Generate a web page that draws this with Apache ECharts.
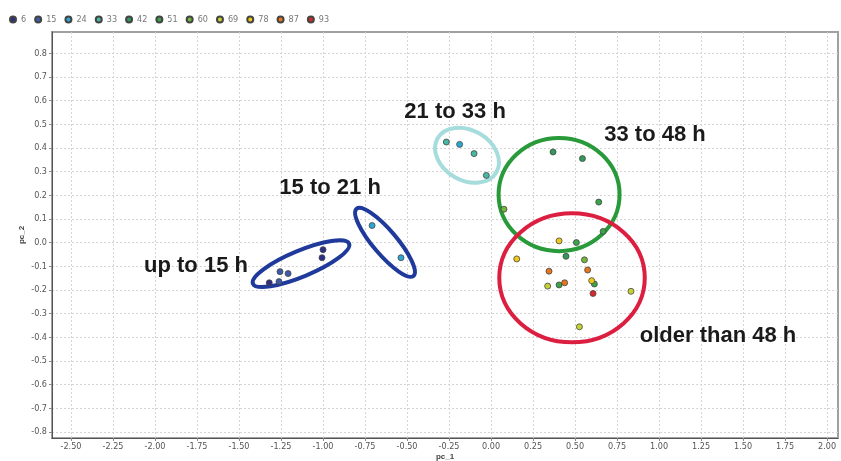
<!DOCTYPE html>
<html><head><meta charset="utf-8">
<script src="https://cdn.jsdelivr.net/npm/echarts@6/dist/echarts.min.js"></script>
<style>html,body{margin:0;padding:0;background:#fff}#c{width:841px;height:461px}</style>
</head><body><div id="c"></div>
<script>
// ---- data ----
const groups = ['6','15','24','33','42','51','60','69','78','87','93'];
const s6  = [[-1.32,-0.17],[-1.00,-0.03],[-1.006,-0.064]];
const s15 = [[-1.256,-0.123],[-1.208,-0.131],[-1.262,-0.165]];
const s24 = [[-0.708,0.072],[-0.536,-0.064],[-0.187,0.415]];
const s33 = [[-0.266,0.425],[-0.101,0.376],[-0.028,0.284]];
const s42 = [[0.369,0.383],[0.544,0.355],[0.446,-0.058]];
const s51 = [[0.641,0.171],[0.508,0.0],[0.667,0.047],[0.405,-0.179],[0.615,-0.175]];
const s60 = [[0.077,0.141],[0.556,-0.073]];
const s69 = [[0.337,-0.184],[0.833,-0.206],[0.526,-0.356]];
const s78 = [[0.405,0.007],[0.153,-0.069],[0.599,-0.161]];
const s87 = [[0.345,-0.121],[0.575,-0.116],[0.438,-0.170]];
const s93 = [[0.607,-0.215]];
const seriesData = [s6,s15,s24,s33,s42,s51,s60,s69,s78,s87,s93];
const xTicks = [-2.5,-2.25,-2.0,-1.75,-1.5,-1.25,-1.0,-0.75,-0.5,-0.25,0,0.25,0.5,0.75,1.0,1.25,1.5,1.75,2.0];
const yTicks = [-0.8,-0.7,-0.6,-0.5,-0.4,-0.3,-0.2,-0.1,0,0.1,0.2,0.3,0.4,0.5,0.6,0.7,0.8];
// annotation ellipses: [cx, cy, semi-major, semi-minor (x-axis units), tilt deg]
const ellipseLabels = ['up to 15 h','15 to 21 h','21 to 33 h','33 to 48 h','older than 48 h'];
const ellipseShapes = [
  [-1.131,-0.089,0.310,0.077,22.6],
  [-0.631,0.001,0.262,0.071,-49.7],
  [-0.143,0.369,0.202,0.149,-30],
  [0.405,0.203,0.360,0.337,0],
  [0.482,-0.149,0.433,0.384,0]
];
const labelAnchors = [[-1.756,-0.097],[-0.958,0.229],[-0.214,0.551],[0.976,0.453],[1.351,-0.394]];

// ---- styles ----
const groupColors = ['#2e2e84','#3d5ba8','#2aa8d2','#48b8a2','#2f9a5a','#3ba34a','#72b63e','#c7d232','#f0c818','#e8761e','#d82828'];
const ellipseColors = ['#1f3a9a','#1f3a9a','#a6dcdc','#289a3a','#dc1e40'];

const chart = echarts.init(document.getElementById('c'), null, {renderer:'canvas'});
const scatterSeries = groups.map((g,i)=>({
  name:g, type:'scatter', data:seriesData[i], symbolSize:6, z:5,
  itemStyle:{color:groupColors[i], borderColor:'#444', borderWidth:0.8, opacity:1}
}));
const ellipseSeries = {
  type:'custom', silent:true, z:3,
  data: ellipseShapes.map((e,i)=>({value:e})),
  renderItem:(params, api)=>{
    const c = api.coord([api.value(0), api.value(1)]);
    const rx = api.size([api.value(2),0])[0];
    const ry = api.size([api.value(3),0])[0];
    return {type:'ellipse', x:c[0], y:c[1], rotation: api.value(4)*Math.PI/180,
      shape:{cx:0, cy:0, rx:rx, ry:ry},
      style:{fill:null, stroke:ellipseColors[params.dataIndex], lineWidth:4}};
  }
};
const labelSeries = {
  type:'custom', silent:true, z:6,
  data: labelAnchors.map(a=>a),
  renderItem:(params, api)=>{
    const c = api.coord([api.value(0), api.value(1)]);
    return {type:'text', x:c[0], y:c[1],
      style:{text:ellipseLabels[params.dataIndex], font:'bold 22px "Liberation Sans", Arial, sans-serif',
        fill:'#1a1a1a', align:'center', verticalAlign:'middle'}};
  }
};

chart.setOption({
  animation:false,
  backgroundColor:'#fff',
  legend:{data:groups, left:4, top:10, icon:'circle', itemWidth:6, itemHeight:6, itemGap:8,
    textStyle:{fontSize:9, color:'#777', fontFamily:'"DejaVu Sans Condensed", "DejaVu Sans", sans-serif'}},
  grid:{left:52, right:3, top:32, bottom:23, outerBoundsMode:'none', containLabel:false,
    show:true, borderColor:'#a0a0a0', borderWidth:2, backgroundColor:'#fff'},
  xAxis:{type:'value', min:-2.613, max:2.065, name:'pc_1', nameLocation:'middle', nameGap:19, nameMoveOverlap:false,
    nameTextStyle:{fontSize:8, color:'#444', fontWeight:'bold', verticalAlign:'middle'},
    axisLine:{show:true, onZero:false, lineStyle:{color:'#555', width:1}},
    axisTick:{show:true, customValues:xTicks, length:3, lineStyle:{color:'#888'}},
    axisLabel:{customValues:xTicks, formatter:v=>v.toFixed(2), fontSize:9, color:'#555', margin:4,
      fontFamily:'"DejaVu Sans Condensed", "Liberation Sans Narrow", sans-serif'},
    splitLine:{show:true, lineStyle:{color:'#d4d4d4', type:[2,2], width:1}}},
  yAxis:{type:'value', min:-0.826, max:0.89, name:'pc_2', nameLocation:'middle', nameGap:26, nameMoveOverlap:false,
    nameTextStyle:{fontSize:8, color:'#444', fontWeight:'bold'},
    axisLine:{show:true, onZero:false, lineStyle:{color:'#555', width:1}},
    axisTick:{show:true, customValues:yTicks, length:3, lineStyle:{color:'#888'}},
    axisLabel:{customValues:yTicks, formatter:v=>v.toFixed(1), fontSize:9, color:'#555', margin:5,
      fontFamily:'"DejaVu Sans Condensed", "Liberation Sans Narrow", sans-serif'},
    splitLine:{show:true, lineStyle:{color:'#d4d4d4', type:[2,2], width:1}}},
  series:[ellipseSeries, ...scatterSeries, labelSeries]
});
</script></body></html>
